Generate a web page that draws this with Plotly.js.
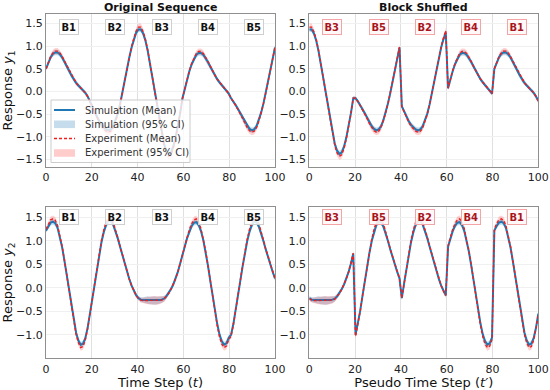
<!DOCTYPE html>
<html><head><meta charset="utf-8">
<script src="https://cdn.plot.ly/plotly-3.0.1.min.js"></script>
<style>html,body{margin:0;padding:0;background:#fff}#chart{width:550px;height:390px}</style>
</head><body><div id="chart"></div>
<script>
// ---------------- DATA ----------------
const nSteps = 100;
const blockSize = 20;
const blockNames = ['B1', 'B2', 'B3', 'B4', 'B5'];
const shuffleOrder = [2, 4, 1, 3, 0];   // B3, B5, B2, B4, B1
const xTicks = [0, 20, 40, 60, 80, 100];
const y1Ticks = [-1.5, -1.0, -0.5, 0.0, 0.5, 1.0, 1.5];
const y2Ticks = [-1.0, -0.5, 0.0, 0.5, 1.0, 1.5];

const y1SimMean = [
  0.50,0.64,0.75,0.83,0.86,0.86,0.82,0.75,0.66,0.56,0.45,0.35,0.26,0.19,0.13,0.08,0.03,-0.03,-0.11,-0.21,
  -0.33,-0.45,-0.56,-0.66,-0.74,-0.80,-0.84,-0.86,-0.84,-0.77,-0.65,-0.49,-0.29,-0.02,0.24,0.50,0.75,0.97,1.15,1.30,
  1.37,1.37,1.28,1.12,0.89,0.60,0.28,-0.04,-0.35,-0.65,-0.93,-1.15,-1.31,-1.38,-1.35,-1.22,-1.02,-0.77,-0.48,-0.15,
  0.07,0.27,0.45,0.60,0.72,0.81,0.85,0.85,0.81,0.74,0.65,0.55,0.45,0.36,0.27,0.20,0.14,0.08,0.02,-0.05,
  -0.15,-0.22,-0.30,-0.39,-0.48,-0.58,-0.68,-0.77,-0.83,-0.86,-0.84,-0.77,-0.64,-0.47,-0.27,-0.04,0.21,0.46,0.72,0.97
];
const y1SimCI = [
  0.04,0.05,0.05,0.06,0.06,0.06,0.06,0.06,0.06,0.06,0.06,0.06,0.06,0.06,0.05,0.05,0.05,0.05,0.05,0.05,
  0.05,0.05,0.05,0.06,0.06,0.06,0.06,0.06,0.06,0.06,0.05,0.05,0.05,0.05,0.05,0.05,0.05,0.05,0.05,0.06,
  0.06,0.06,0.06,0.05,0.05,0.05,0.05,0.05,0.05,0.05,0.05,0.06,0.06,0.07,0.07,0.06,0.06,0.05,0.05,0.05,
  0.04,0.04,0.05,0.05,0.05,0.06,0.06,0.06,0.06,0.06,0.06,0.06,0.06,0.05,0.05,0.05,0.05,0.04,0.04,0.04,
  0.04,0.04,0.05,0.05,0.05,0.05,0.06,0.06,0.06,0.06,0.06,0.06,0.06,0.05,0.05,0.05,0.05,0.05,0.05,0.05
];
const y1ExpMean = [
  0.50,0.65,0.77,0.85,0.89,0.89,0.85,0.77,0.67,0.57,0.46,0.36,0.27,0.19,0.13,0.08,0.03,-0.03,-0.11,-0.21,
  -0.33,-0.46,-0.57,-0.68,-0.77,-0.83,-0.88,-0.90,-0.88,-0.81,-0.68,-0.51,-0.30,-0.03,0.24,0.50,0.76,0.99,1.18,1.34,
  1.42,1.42,1.32,1.15,0.91,0.61,0.28,-0.04,-0.36,-0.67,-0.96,-1.19,-1.36,-1.43,-1.40,-1.26,-1.05,-0.79,-0.49,-0.15,
  0.07,0.28,0.46,0.62,0.75,0.84,0.88,0.88,0.84,0.76,0.66,0.56,0.45,0.36,0.27,0.20,0.14,0.08,0.02,-0.05,
  -0.15,-0.22,-0.31,-0.40,-0.50,-0.60,-0.71,-0.80,-0.87,-0.90,-0.88,-0.80,-0.66,-0.48,-0.27,-0.04,0.21,0.47,0.73,0.98
];
const y1ExpCI = [
  0.04,0.05,0.06,0.07,0.07,0.07,0.06,0.05,0.04,0.04,0.04,0.04,0.04,0.04,0.04,0.04,0.04,0.04,0.04,0.04,
  0.04,0.04,0.05,0.05,0.06,0.07,0.07,0.07,0.07,0.06,0.05,0.04,0.04,0.04,0.04,0.04,0.05,0.05,0.06,0.07,
  0.08,0.08,0.07,0.06,0.05,0.04,0.04,0.04,0.04,0.05,0.05,0.06,0.07,0.08,0.08,0.07,0.06,0.05,0.04,0.04,
  0.04,0.04,0.04,0.05,0.06,0.07,0.07,0.07,0.07,0.06,0.05,0.04,0.04,0.04,0.04,0.04,0.04,0.04,0.04,0.04,
  0.04,0.04,0.04,0.04,0.05,0.05,0.06,0.07,0.07,0.07,0.07,0.07,0.06,0.05,0.04,0.04,0.04,0.04,0.04,0.05
];

const y2SimMean = [
  1.22,1.32,1.39,1.41,1.38,1.28,1.10,0.86,0.57,0.25,-0.08,-0.40,-0.70,-0.95,-1.12,-1.21,-1.19,-1.07,-0.85,-0.55,
  -0.22,0.10,0.42,0.72,0.98,1.19,1.34,1.42,1.44,1.35,1.22,1.06,0.88,0.70,0.52,0.35,0.19,0.05,-0.07,-0.16,
  -0.22,-0.25,-0.26,-0.26,-0.26,-0.27,-0.27,-0.27,-0.27,-0.26,-0.25,-0.23,-0.18,-0.11,-0.03,0.07,0.19,0.34,0.52,0.73,
  0.88,1.06,1.21,1.32,1.39,1.40,1.34,1.21,1.02,0.77,0.48,0.16,-0.16,-0.47,-0.76,-0.99,-1.14,-1.21,-1.18,-1.06,
  -1.00,-0.77,-0.49,-0.17,0.15,0.46,0.75,1.00,1.20,1.34,1.41,1.40,1.31,1.17,1.00,0.82,0.65,0.49,0.34,0.20
];
const y2SimCI = [
  0.05,0.05,0.06,0.06,0.06,0.06,0.05,0.05,0.05,0.05,0.05,0.05,0.05,0.05,0.06,0.06,0.06,0.06,0.05,0.05,
  0.05,0.05,0.05,0.05,0.05,0.06,0.06,0.06,0.06,0.06,0.05,0.05,0.05,0.05,0.05,0.05,0.05,0.05,0.05,0.05,
  0.05,0.05,0.06,0.07,0.08,0.08,0.09,0.09,0.08,0.08,0.07,0.06,0.05,0.05,0.05,0.05,0.05,0.05,0.05,0.05,
  0.05,0.05,0.05,0.06,0.06,0.06,0.06,0.05,0.05,0.05,0.05,0.05,0.05,0.05,0.05,0.06,0.06,0.06,0.06,0.06,
  0.05,0.05,0.05,0.05,0.05,0.05,0.05,0.05,0.06,0.06,0.06,0.06,0.06,0.05,0.05,0.05,0.05,0.05,0.05,0.05
];
const y2ExpMean = [
  1.25,1.37,1.45,1.47,1.44,1.33,1.13,0.88,0.58,0.25,-0.09,-0.42,-0.73,-0.99,-1.17,-1.27,-1.25,-1.11,-0.87,-0.56,
  -0.22,0.11,0.44,0.75,1.02,1.24,1.40,1.48,1.50,1.40,1.25,1.08,0.89,0.71,0.53,0.35,0.19,0.05,-0.07,-0.16,
  -0.23,-0.26,-0.27,-0.27,-0.27,-0.27,-0.27,-0.27,-0.27,-0.27,-0.26,-0.24,-0.19,-0.12,-0.03,0.07,0.19,0.34,0.53,0.74,
  0.90,1.09,1.25,1.37,1.45,1.47,1.40,1.26,1.05,0.79,0.49,0.16,-0.17,-0.49,-0.80,-1.04,-1.20,-1.27,-1.24,-1.10,
  -1.03,-0.79,-0.50,-0.17,0.16,0.48,0.78,1.04,1.25,1.40,1.48,1.47,1.37,1.21,1.02,0.83,0.66,0.50,0.34,0.20
];
const y2ExpCI = [
  0.05,0.06,0.07,0.07,0.07,0.06,0.05,0.04,0.04,0.04,0.04,0.04,0.05,0.06,0.07,0.07,0.07,0.06,0.05,0.04,
  0.04,0.04,0.04,0.05,0.05,0.06,0.07,0.07,0.07,0.07,0.06,0.05,0.04,0.04,0.04,0.04,0.04,0.04,0.04,0.04,
  0.04,0.05,0.06,0.07,0.08,0.09,0.09,0.09,0.09,0.08,0.07,0.06,0.05,0.04,0.04,0.04,0.04,0.04,0.04,0.04,
  0.04,0.05,0.06,0.07,0.07,0.07,0.07,0.06,0.05,0.04,0.04,0.04,0.04,0.05,0.06,0.07,0.07,0.07,0.07,0.06,
  0.05,0.04,0.04,0.04,0.04,0.04,0.05,0.06,0.07,0.07,0.07,0.07,0.07,0.06,0.05,0.04,0.04,0.04,0.04,0.04
];

// ---------------- BUILD ----------------
const FONT = 'DejaVu Sans, Verdana, sans-serif';
const SIM = '#1f77b4', SIM_FILL = 'rgba(31,119,180,0.26)';
const EXP = '#f21d1d', EXP_FILL = 'rgba(255,0,0,0.18)';

const t = Array.from({length: nSteps}, (_, i) => i * 100 / (nSteps - 1));
function shuffleBlocks(arr) {
  const out = [];
  shuffleOrder.forEach(b => { for (let j = 0; j < blockSize; j++) out.push(arr[b * blockSize + j]); });
  return out;
}
function bandTrace(x, mean, ci, color, xa, ya, name) {
  const up = mean.map((v, i) => v + ci[i]);
  const lo = mean.map((v, i) => v - ci[i]);
  return {x: x.concat(x.slice().reverse()), y: up.concat(lo.slice().reverse()),
    type: 'scatter', mode: 'lines', fill: 'toself', fillcolor: color, line: {width: 0, color: color},
    xaxis: xa, yaxis: ya, name: name, showlegend: false, hoverinfo: 'skip'};
}
function lineTrace(x, y, color, width, dash, xa, ya, name) {
  return {x: x, y: y, type: 'scatter', mode: 'lines', line: {color: color, width: width, dash: dash},
    xaxis: xa, yaxis: ya, name: name, showlegend: false, hoverinfo: 'skip'};
}
const panels = [
  {xa: 'x', ya: 'y', sm: y1SimMean, sc: y1SimCI, em: y1ExpMean, ec: y1ExpCI, shuf: false},
  {xa: 'x2', ya: 'y2', sm: y1SimMean, sc: y1SimCI, em: y1ExpMean, ec: y1ExpCI, shuf: true},
  {xa: 'x3', ya: 'y3', sm: y2SimMean, sc: y2SimCI, em: y2ExpMean, ec: y2ExpCI, shuf: false},
  {xa: 'x4', ya: 'y4', sm: y2SimMean, sc: y2SimCI, em: y2ExpMean, ec: y2ExpCI, shuf: true}
];
const traces = [];
panels.forEach(p => {
  const f = p.shuf ? shuffleBlocks : (a => a);
  traces.push(bandTrace(t, f(p.sm), f(p.sc), SIM_FILL, p.xa, p.ya, 'Simulation (95% CI)'));
  traces.push(bandTrace(t, f(p.em), f(p.ec), EXP_FILL, p.xa, p.ya, 'Experiment (95% CI)'));
  traces.push(lineTrace(t, f(p.sm), SIM, 2, 'solid', p.xa, p.ya, 'Simulation (Mean)'));
  traces.push(lineTrace(t, f(p.em), EXP, 1.4, '3px,2px', p.xa, p.ya, 'Experiment (Mean)'));
});

const W = 550, H = 390;
const px = v => v / W, py = v => 1 - v / H;
const xDomL = [46 / W, 275 / W], xDomR = [309.3 / W, 538.3 / W];
const yDomT = [1 - 167 / H, 1 - 14 / H], yDomB = [1 - 358.3 / H, 1 - 206.7 / H];

function xAxis(dom, anchor, title) {
  const ax = {domain: dom, anchor: anchor, range: [0, 100], tickvals: xTicks, ticks: '',
    showline: true, mirror: true, linecolor: '#8f8f8f', linewidth: 1,
    showgrid: true, gridcolor: '#e0e0e0', gridwidth: 1, zeroline: false,
    tickfont: {family: FONT, size: 11, color: '#222'}, fixedrange: true};
  if (title) ax.title = {text: title, font: {family: FONT, size: 13, color: '#111'}, standoff: 2};
  return ax;
}
function yAxis(dom, anchor, range, ticks, title) {
  const ax = {domain: dom, anchor: anchor, range: range, tickvals: ticks, tickformat: '.1f', ticks: '',
    showline: true, mirror: true, linecolor: '#8f8f8f', linewidth: 1,
    showgrid: true, gridcolor: '#f0f0f0', gridwidth: 1, zeroline: false,
    tickfont: {family: FONT, size: 11, color: '#222'}, fixedrange: true};
  if (title) ax.title = {text: title, font: {family: FONT, size: 13, color: '#111'}, standoff: 4};
  return ax;
}

const annotations = [];
function blockLabels(xref, yref, yfrac, names, dark) {
  names.forEach((nm, k) => {
    annotations.push({x: t[k * blockSize + blockSize / 2], y: yfrac, xref: xref, yref: yref + ' domain',
      text: '<b>' + nm + '</b>', showarrow: false, xanchor: 'center', yanchor: 'middle',
      font: {family: FONT, size: 10, color: dark ? '#111' : '#a8151c'},
      bgcolor: dark ? 'rgba(255,255,255,0.85)' : 'rgba(255,247,247,0.9)',
      bordercolor: dark ? '#cfcfcf' : '#f3a5a5', borderwidth: 1, borderpad: 1.5});
  });
}
const shuffledNames = shuffleOrder.map(b => blockNames[b]);
blockLabels('x', 'y', 0.915, blockNames, true);
blockLabels('x2', 'y2', 0.915, shuffledNames, false);
blockLabels('x3', 'y3', 0.93, blockNames, true);
blockLabels('x4', 'y4', 0.93, shuffledNames, false);

annotations.push({x: (xDomL[0] + xDomL[1]) / 2, y: py(7.5), xref: 'paper', yref: 'paper', showarrow: false,
  text: '<b>Original Sequence</b>', font: {family: FONT, size: 11, color: '#111'}, xanchor: 'center', yanchor: 'middle'});
annotations.push({x: (xDomR[0] + xDomR[1]) / 2, y: py(7.5), xref: 'paper', yref: 'paper', showarrow: false,
  text: '<b>Block Shuffled</b>', font: {family: FONT, size: 11, color: '#111'}, xanchor: 'center', yanchor: 'middle'});

// legend (drawn in the top-left panel)
const legendRows = [
  {label: 'Simulation (Mean)', kind: 'line', color: SIM, width: 2, dash: 'solid', y: 110},
  {label: 'Simulation (95% CI)', kind: 'patch', color: SIM_FILL, y: 124.3},
  {label: 'Experiment (Mean)', kind: 'line', color: EXP, width: 1.5, dash: '3px,2px', y: 138.6},
  {label: 'Experiment (95% CI)', kind: 'patch', color: 'rgba(255,0,0,0.2)', y: 153}
];
const shapes = [{type: 'rect', xref: 'paper', yref: 'paper', x0: px(51), x1: px(190), y0: py(162.5), y1: py(100),
  fillcolor: 'rgba(255,255,255,0.8)', line: {color: '#cccccc', width: 1}, layer: 'above'}];
legendRows.forEach(r => {
  if (r.kind === 'line') {
    shapes.push({type: 'line', xref: 'paper', yref: 'paper', x0: px(54), x1: px(75), y0: py(r.y), y1: py(r.y),
      line: {color: r.color, width: r.width, dash: r.dash}, layer: 'above'});
  } else {
    shapes.push({type: 'rect', xref: 'paper', yref: 'paper', x0: px(54), x1: px(75), y0: py(r.y + 3.8), y1: py(r.y - 3.8),
      fillcolor: r.color, line: {width: 0}, layer: 'above'});
  }
  annotations.push({x: px(82.5), y: py(r.y), xref: 'paper', yref: 'paper', text: r.label, showarrow: false,
    xanchor: 'left', yanchor: 'middle', font: {family: FONT, size: 10, color: '#333'}});
});

const layout = {
  width: W, height: H, margin: {l: 0, r: 0, t: 0, b: 0},
  paper_bgcolor: '#fff', plot_bgcolor: '#fff', showlegend: false,
  font: {family: FONT},
  xaxis: xAxis(xDomL, 'y'), yaxis: yAxis(yDomT, 'x', [-1.67, 1.71], y1Ticks, 'Response <i>y</i><sub>1</sub>'),
  xaxis2: xAxis(xDomR, 'y2'), yaxis2: yAxis(yDomT, 'x2', [-1.67, 1.71], y1Ticks),
  xaxis3: xAxis(xDomL, 'y3', 'Time Step (<i>t</i>)'), yaxis3: yAxis(yDomB, 'x3', [-1.5, 1.73], y2Ticks, 'Response <i>y</i><sub>2</sub>'),
  xaxis4: xAxis(xDomR, 'y4', 'Pseudo Time Step (<i>t′</i>)'), yaxis4: yAxis(yDomB, 'x4', [-1.5, 1.73], y2Ticks),
  annotations: annotations, shapes: shapes
};
Plotly.newPlot('chart', traces, layout, {staticPlot: true, displayModeBar: false});
</script></body></html>
